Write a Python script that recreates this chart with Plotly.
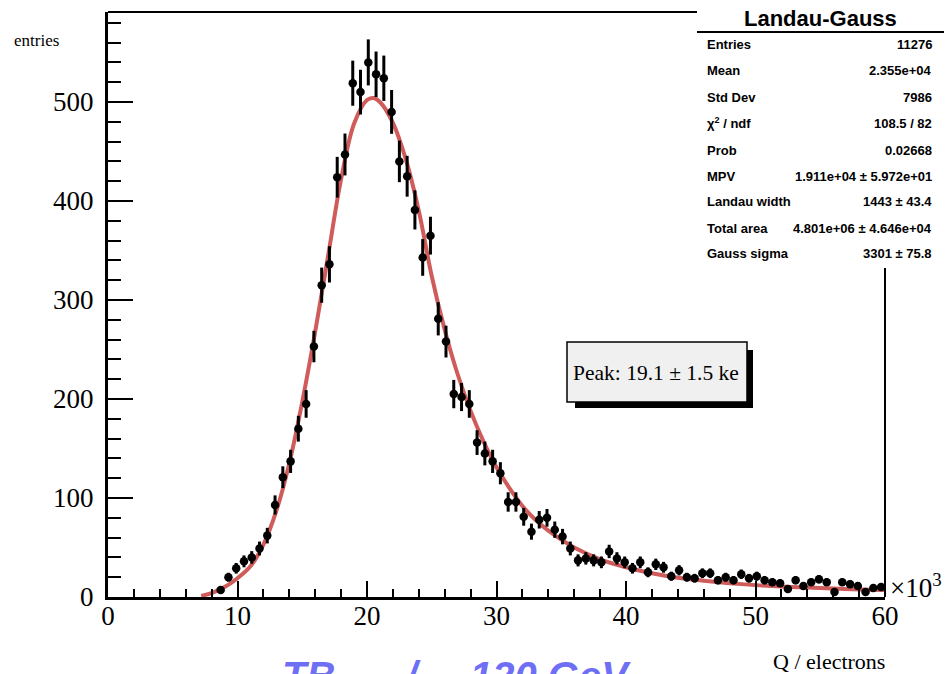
import numpy as np
import plotly.graph_objects as go

# ---------------- data ----------------
bin_width = 0.6          # ke per bin (100 bins on 0..60 ke)
first_bin = 14           # first non-empty bin index
counts = [7, 20, 29, 36, 40, 49, 62, 93, 121, 137,
          170, 195, 253, 315, 336, 424, 447, 519, 510, 540,
          528, 524, 490, 440, 425, 391, 343, 365, 281, 258,
          205, 202, 195, 156, 145, 137, 125, 96, 96, 81,
          66, 78, 80, 68, 61, 49, 37, 39, 37, 35,
          46, 39, 35, 29, 35, 25, 33, 30, 21, 27,
          20, 19, 24, 24, 17, 20, 17, 23, 19, 21,
          17, 15, 14, 8, 17, 11, 15, 18, 15, 5,
          15, 13, 11, 5, 9, 10]

fit_q = [7.2, 8.0, 9.0, 10.0, 11.0, 12.0, 13.0, 14.0, 15.0, 16.0, 17.0, 18.0,
         19.0, 20.0, 20.5, 21.0, 22.0, 23.0, 24.0, 25.0, 26.0, 27.0, 28.0, 29.0,
         30.0, 31.0, 32.0, 33.0, 34.0, 35.0, 36.0, 38.0, 40.0, 42.0, 44.0, 46.0,
         48.0, 50.0, 52.0, 54.0, 56.0, 58.0, 60.0]
fit_v = [1, 4, 10, 19, 31, 53, 87, 135, 197, 268, 345, 422,
         478, 502, 504, 500, 479, 442, 390, 324, 270, 225, 188, 157,
         131, 110, 92, 78, 67, 58, 50, 38, 30, 24, 19.5, 16.5,
         14, 12, 10.5, 9.5, 8.5, 7.5, 7]

x_ticks = [0, 10, 20, 30, 40, 50, 60]
y_ticks = [0, 100, 200, 300, 400, 500]

stats_title = "Landau-Gauss"
stats_labels = ["Entries", "Mean", "Std Dev", "χ<sup>2</sup> / ndf", "Prob", "MPV",
                "Landau width", "Total area", "Gauss sigma"]
stats_values = ["11276", "2.355e+04", "7986", "108.5 / 82", "0.02668",
                "1.911e+04 ± 5.972e+01", "1443 ± 43.4", "4.801e+06 ± 4.646e+04",
                "3301 ± 75.8"]
peak_text = "Peak: 19.1 ± 1.5 ke"

# ---------------- derived ----------------
counts_arr = np.array(counts, dtype=float)
centers = (np.arange(first_bin, first_bin + len(counts)) + 0.5) * bin_width
errors = np.sqrt(counts_arr)

OFF = 8                      # page body margin
W, H = 952 - OFF, 674 - OFF  # figure size so that it fits the window
# plot area in window pixels
L, R, T, B = 108, 885, 12, 597


def px(xp):
    return (xp - L) / (R - L)


def py(yp):
    return (B - yp) / (B - T)


fig = go.Figure()
fig.add_trace(go.Scatter(
    x=fit_q, y=fit_v, mode="lines",
    line=dict(color="#cf5b5b", width=4, shape="spline", smoothing=1.0),
    hoverinfo="skip", showlegend=False))
fig.add_trace(go.Scatter(
    x=centers, y=counts_arr, mode="markers",
    marker=dict(color="black", size=8.5),
    error_y=dict(type="data", array=errors, visible=True, color="black",
                 thickness=3, width=0),
    showlegend=False))

serif = "Liberation Serif"
sans = "Liberation Sans"

fig.update_layout(
    width=W, height=H,
    margin=dict(l=L - OFF, r=W - (R - OFF), t=T - OFF, b=H - (B - OFF), autoexpand=False),
    paper_bgcolor="white", plot_bgcolor="white",
    xaxis=dict(range=[0, 60], tickvals=x_ticks, ticktext=[str(v) for v in x_ticks],
               ticks="inside", ticklen=16, tickwidth=2, tickcolor="black",
               minor=dict(dtick=2, ticks="inside", ticklen=8, tickwidth=2, tickcolor="black"),
               showline=True, linewidth=3, linecolor="black", showgrid=False, zeroline=False,
               ticklabelstandoff=-7,
               tickfont=dict(family=serif, size=27, color="black")),
    yaxis=dict(range=[0, (B - T) / 0.99], tickvals=y_ticks, ticktext=[str(v) for v in y_ticks],
               ticks="inside", ticklen=25, tickwidth=2, tickcolor="black",
               minor=dict(dtick=20, ticks="inside", ticklen=13, tickwidth=2, tickcolor="black"),
               showline=True, linewidth=3, linecolor="black", showgrid=False, zeroline=False,
               ticklabelstandoff=6,
               tickfont=dict(family=serif, size=27, color="black")),
)

shapes = []
# frame top and right
shapes.append(dict(type="line", xref="paper", yref="paper", x0=0, x1=px(697), y0=1, y1=1,
                   line=dict(color="black", width=2)))
shapes.append(dict(type="line", xref="paper", yref="paper", x0=1, x1=1, y0=0, y1=py(268),
                   line=dict(color="black", width=2)))
# stats box
shapes.append(dict(type="rect", xref="paper", yref="paper", x0=px(697), x1=px(960),
                   y0=py(268), y1=py(-5), fillcolor="white", line=dict(width=0), layer="above"))
shapes.append(dict(type="line", xref="paper", yref="paper", x0=px(697), x1=px(952),
                   y0=py(32), y1=py(32), line=dict(color="black", width=2), layer="above"))
# peak box with shadow
shapes.append(dict(type="rect", xref="paper", yref="paper", x0=px(575), x1=px(753),
                   y0=py(408), y1=py(350), fillcolor="black", line=dict(width=0), layer="above"))
shapes.append(dict(type="rect", xref="paper", yref="paper", x0=px(567), x1=px(747),
                   y0=py(402), y1=py(342), fillcolor="#f0f0f0",
                   line=dict(color="black", width=1.5), layer="above"))
fig.update_layout(shapes=shapes)

ann = []


def add_text(text, xp, yp, size, family, xanchor="center", yanchor="middle", color="black"):
    ann.append(dict(text=text, x=px(xp), y=py(yp), xref="paper", yref="paper",
                    showarrow=False, xanchor=xanchor, yanchor=yanchor,
                    font=dict(family=family, size=size, color=color)))


add_text("<b>" + stats_title + "</b>", 820, 19, 22, sans)
row_y = [44, 71, 97, 123, 150, 176, 202, 228, 254]
for lab, val, yy in zip(stats_labels, stats_values, row_y):
    add_text("<b>" + lab + "</b>", 705, yy, 13, sans, xanchor="left")
    add_text("<b>" + val + "</b>", 934, yy, 13, sans, xanchor="right")

add_text(peak_text, 656, 373, 21.5, serif)
add_text("entries", 12, 40, 17, serif, xanchor="left")
add_text("Q / electrons", 887, 661, 22, serif, xanchor="right")
add_text("×10<sup>3</sup>", 888, 586, 27, serif, xanchor="left")

# slide title, cut by the bottom edge
blue = "#6f6ff5"
add_text("<b><i>TB</i></b>", 280, 652, 40, sans, xanchor="left", yanchor="top", color=blue)
add_text("<b><i>/</i></b>", 402, 652, 40, sans, xanchor="left", yanchor="top", color=blue)
add_text("<b><i>120 GeV</i></b>", 468, 652, 40, sans, xanchor="left", yanchor="top", color=blue)

fig.update_layout(annotations=ann)
fig.write_html("out.html")
